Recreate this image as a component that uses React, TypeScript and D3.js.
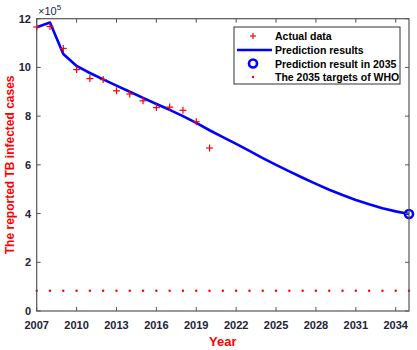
import React from "react";
import * as d3 from "d3";

const actualYears = [2007, 2008, 2009, 2010, 2011, 2012, 2013, 2014, 2015, 2016, 2017, 2018, 2019, 2020];
const actualValues = [11.66, 11.68, 10.78, 9.91, 9.54, 9.5, 9.04, 8.91, 8.63, 8.35, 8.37, 8.24, 7.77, 6.69];

const predYears = [2007, 2008, 2009, 2010, 2011, 2012, 2013, 2014, 2015, 2016, 2017, 2018, 2019, 2020, 2021,
  2022, 2023, 2024, 2025, 2026, 2027, 2028, 2029, 2030, 2031, 2032, 2033, 2034, 2035];
const predValues = [11.65, 11.84, 10.55, 10.06, 9.77, 9.51, 9.25, 9.0, 8.75, 8.5, 8.26, 8.0, 7.72, 7.42, 7.14,
  6.86, 6.57, 6.28, 6.0, 5.73, 5.47, 5.22, 4.98, 4.76, 4.56, 4.38, 4.22, 4.09, 3.98];

const target2035Year = 2035;
const target2035Value = 3.98;

const whoTargetValue = 0.83;
const whoYears = d3.range(2007, 2036);

const xTicks = [2007, 2010, 2013, 2016, 2019, 2022, 2025, 2028, 2031, 2034];
const yTicks = [0, 2, 4, 6, 8, 10, 12];

const legendLabels = ["Actual data", "Prediction results", "Prediction result in 2035", "The 2035 targets of WHO"];

export default function App() {
  const W = 417, H = 350;
  const left = 36.7, right = 409, top = 18.7, bottom = 311;
  const x = d3.scaleLinear().domain([2007, 2035]).range([left, right]);
  const y = d3.scaleLinear().domain([0, 12]).range([bottom, top]);
  const line = d3.line<number>().x((_, i) => x(predYears[i])).y((d) => y(d));
  const axisColor = "#555";
  const tickColor = "#1e2238";
  const font = "'Liberation Sans', Arial, sans-serif";
  const tl = 4;

  const legX = 234, legY = 27, legW = 166, legH = 57;
  const rows = [36, 50, 63.5, 77];
  const mx = 253;

  return (
    <svg width={W} height={H} style={{ position: "absolute", left: 0, top: 0, background: "#fff" }} fontFamily={font}>
      <rect x={0} y={0} width={W} height={H} fill="#fff" />
      {/* WHO target dots */}
      {whoYears.map((yr) => (
        <circle key={"w" + yr} cx={x(yr)} cy={y(whoTargetValue)} r={1.2} fill="#ff0000" />
      ))}
      {/* prediction line */}
      <path d={line(predValues) || ""} fill="none" stroke="#0000ff" strokeWidth={2.6} strokeLinejoin="round" />
      {/* actual data */}
      {actualValues.map((v, i) => {
        const cx = x(actualYears[i]), cy = y(v);
        return (
          <g key={"a" + i} stroke="#ff0000" strokeWidth={1.2}>
            <line x1={cx - 3.5} x2={cx + 3.5} y1={cy} y2={cy} />
            <line x1={cx} x2={cx} y1={cy - 3.5} y2={cy + 3.5} />
          </g>
        );
      })}
      {/* 2035 circle */}
      <circle cx={x(target2035Year)} cy={y(target2035Value)} r={4} fill="none" stroke="#0000ff" strokeWidth={2.6} />

      {/* axes box */}
      <rect x={left} y={top} width={right - left} height={bottom - top} fill="none" stroke={axisColor} strokeWidth={1.2} />
      {xTicks.map((t) => (
        <g key={"xt" + t}>
          <line x1={x(t)} x2={x(t)} y1={bottom} y2={bottom - tl} stroke={axisColor} />
          <line x1={x(t)} x2={x(t)} y1={top} y2={top + tl} stroke={axisColor} />
          <text x={x(t)} y={329} textAnchor="middle" fontSize={11} fontWeight="bold" fill={tickColor}>{t}</text>
        </g>
      ))}
      {yTicks.map((t) => (
        <g key={"yt" + t}>
          <line x1={left} x2={left + tl} y1={y(t)} y2={y(t)} stroke={axisColor} />
          <line x1={right} x2={right - tl} y1={y(t)} y2={y(t)} stroke={axisColor} />
          <text x={31} y={y(t) + 4} textAnchor="end" fontSize={11} fontWeight="bold" fill={tickColor}>{t}</text>
        </g>
      ))}
      {/* exponent */}
      <text x={38} y={15} fontSize={11} fill={tickColor}>
        ×10<tspan dy={-5} fontSize={8}>5</tspan>
      </text>
      {/* axis labels */}
      <text x={(left + right) / 2} y={346} textAnchor="middle" fontSize={13} fontWeight="bold" fill="#ff0000">Year</text>
      <text transform={`translate(14, ${(top + bottom) / 2}) rotate(-90)`} textAnchor="middle" fontSize={12} fontWeight="bold" fill="#ff0000">
        The reported TB infected cases
      </text>

      {/* legend */}
      <rect x={legX} y={legY} width={legW} height={legH} fill="#fff" stroke="#333" strokeWidth={1} />
      <g stroke="#ff0000" strokeWidth={1.2}>
        <line x1={mx - 3} x2={mx + 3} y1={rows[0]} y2={rows[0]} />
        <line x1={mx} x2={mx} y1={rows[0] - 3} y2={rows[0] + 3} />
      </g>
      <line x1={237} x2={272} y1={rows[1]} y2={rows[1]} stroke="#0000ff" strokeWidth={2.6} />
      <circle cx={mx} cy={rows[2]} r={4} fill="none" stroke="#0000ff" strokeWidth={2.6} />
      <circle cx={mx} cy={rows[3]} r={1.2} fill="#ff0000" />
      {legendLabels.map((l, i) => (
        <text key={l} x={275} y={rows[i] + 4} fontSize={10.5} fontWeight="bold" fill="#000">{l}</text>
      ))}
    </svg>
  );
}
